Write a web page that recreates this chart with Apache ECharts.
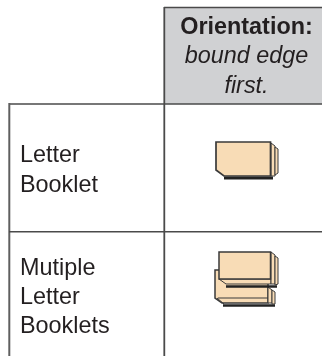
<!DOCTYPE html>
<html>
<head>
<meta charset="utf-8">
<style>
  html, body { margin: 0; padding: 0; background: #fff; }
  #main { width: 322px; height: 356px; }
</style>
<script src="https://cdn.jsdelivr.net/npm/echarts@6/dist/echarts.min.js"></script>
</head>
<body>
<div id="main"></div>
<script>
const headerTitle = 'Orientation:'
const headerNote = ['bound edge', 'first.']
const rowLabels = [['Letter', 'Booklet'], ['Mutiple', 'Letter', 'Booklets']]

const lineColor = '#4a4a4a'
const paper = '#f8dcb6'
const edge = '#3a3a3a'
const fontFamily = '"Liberation Sans", Arial, sans-serif'

function line(x1, y1, x2, y2, width, color) {
  return { type: 'line', shape: { x1, y1, x2, y2 }, style: { stroke: color || lineColor, lineWidth: width || 1.5 } }
}

// y is the text baseline, the label itself is placed by its middle
function text(x, y, str, extra) {
  return {
    type: 'text', x, y: y - 6.5,
    style: Object.assign({
      text: str, fontFamily, fontSize: 23.4, fill: '#231f20', verticalAlign: 'middle'
    }, extra)
  }
}

function poly(points, fill, stroke, width) {
  return { type: 'polygon', shape: { points }, style: { fill, stroke: stroke || 'none', lineWidth: width || 0, lineJoin: 'miter' } }
}

function pline(points, width, color) {
  return { type: 'polyline', shape: { points }, style: { fill: 'none', stroke: color || edge, lineWidth: width || 1.2 } }
}

const elements = []

// header cell
elements.push({ type: 'rect', shape: { x: 164, y: 7, width: 158, height: 97 }, style: { fill: '#d0d1d3' } })
elements.push(text(246.5, 34, headerTitle, { fontWeight: 'bold', align: 'center' }))
headerNote.forEach((s, i) => {
  elements.push(text(246.5, 63 + i * 30, s, { fontStyle: 'italic', align: 'center' }))
})

// table rules
elements.push(line(164, 7.5, 322, 7.5, 1.6))
elements.push(line(164.3, 7, 164.3, 356, 1.8))
elements.push(line(9, 104, 322, 104, 1.6))
elements.push(line(9.3, 103, 9.3, 356, 2, '#5f5f5f'))
elements.push(line(9, 231.8, 322, 231.8, 1.6))

// row labels
rowLabels[0].forEach((s, i) => elements.push(text(20, 162 + i * 30, s)))
rowLabels[1].forEach((s, i) => elements.push(text(20, 275 + i * 29, s)))

// single booklet icon
elements.push(pline([[224, 178], [273, 178]], 3, '#222'))
elements.push(poly([[271, 143], [275, 146], [275, 176], [271, 176]], paper, edge, 1))
elements.push(poly([[275, 147], [278, 149], [278, 173], [275, 175]], paper, edge, 1))
elements.push(poly([[216, 142], [270.5, 142], [270.5, 176], [224, 176], [216, 170]], paper, edge, 1.7))

// stacked booklets icon, lower one first
elements.push(pline([[223, 305.5], [275, 305.5]], 2.5, '#222'))
elements.push(poly([[215, 270], [268, 270], [268, 303], [222, 303], [215, 298]], paper, edge, 1.5))
elements.push(poly([[268, 287], [272, 290], [272, 303], [268, 303]], paper, edge, 1))
elements.push(poly([[272, 290], [275, 292], [275, 304], [272, 304]], paper, edge, 1))
elements.push(pline([[217, 298], [224, 304]], 1, edge))
elements.push(pline([[218, 298], [268, 298]], 1, edge))
elements.push(pline([[226, 286.5], [277, 286.5]], 2.5, '#222'))
elements.push(poly([[219, 279], [271, 279], [271, 284], [226, 284]], paper, edge, 1))
elements.push(poly([[271, 252], [275, 255], [275, 284], [271, 284]], paper, edge, 1))
elements.push(poly([[275, 256], [278, 258], [278, 284], [275, 285]], paper, edge, 1))
elements.push(poly([[219, 252], [270.5, 252], [270.5, 279], [219, 279]], paper, edge, 1.5))

const chart = echarts.init(document.getElementById('main'))
chart.setOption({
  animation: false,
  graphic: { elements }
})
</script>
</body>
</html>
